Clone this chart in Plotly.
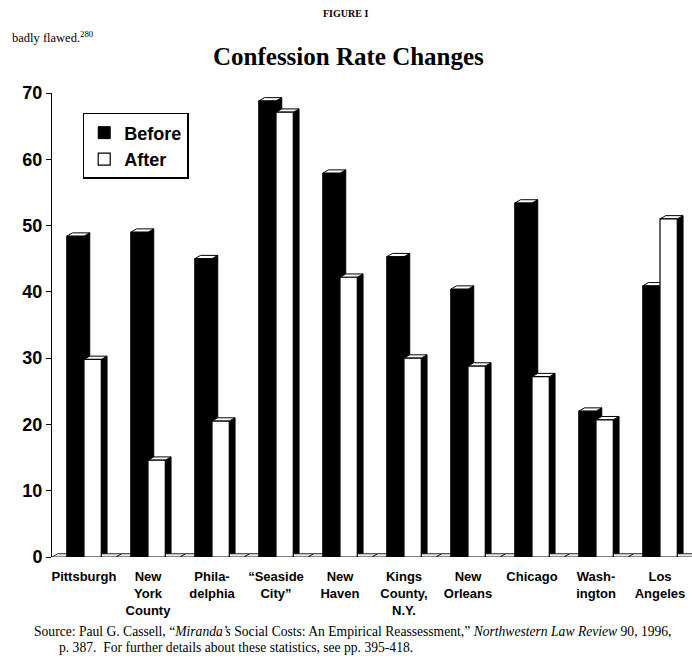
import plotly.graph_objects as go

categories = ["Pittsburgh", "New<br>York<br>County", "Phila-<br>delphia", "\u201cSeaside<br>City\u201d",
              "New<br>Haven", "Kings<br>County,<br>N.Y.", "New<br>Orleans", "Chicago",
              "Wash-<br>ington", "Los<br>Angeles"]
before = [48.4, 49.0, 45.0, 68.8, 57.9, 45.3, 40.4, 53.4, 22.0, 40.9]
after = [29.8, 14.6, 20.5, 67.1, 42.2, 30.0, 28.8, 27.2, 20.7, 51.0]
y_ticks = [0, 10, 20, 30, 40, 50, 60, 70]

xs = list(range(len(categories)))
W = 0.27      # front face width (x units)
OFF_B = -0.27
OFF_A = 0.0
DX = 0.09     # depth in x units
DY = 0.5      # depth in y units

fig = go.Figure()
fig.add_trace(go.Bar(x=xs, y=before, name="<b>Before</b>", width=W, offset=OFF_B,
                     marker=dict(color="black", line=dict(color="black", width=1))))
fig.add_trace(go.Bar(x=xs, y=after, name="<b>After</b>", width=W, offset=OFF_A,
                     marker=dict(color="white", line=dict(color="black", width=1.2))))

shapes = []
for i, (b, a) in enumerate(zip(before, after)):
    for off, h in ((OFF_B, b), (OFF_A, a)):
        L = i + off
        R = L + W
        shapes.append(dict(type="path", xref="x", yref="y", layer="below",
                           path=f"M {R},0 L {R+DX},{DY} L {R+DX},{h+DY} L {R},{h} Z",
                           fillcolor="black", line=dict(color="black", width=1)))
        shapes.append(dict(type="path", xref="x", yref="y", layer="below",
                           path=f"M {L},{h} L {L+DX},{h+DY} L {R+DX},{h+DY} L {R},{h} Z",
                           fillcolor="white", line=dict(color="black", width=1)))
    shapes.append(dict(type="path", xref="x", yref="y", layer="below",
                       path=f"M {i-0.5},0 L {i-0.5+DX},{DY} L {i+0.5+DX},{DY} L {i+0.5},0 Z",
                       fillcolor="#e6e6e6", line=dict(color="black", width=0.8)))

fig.update_layout(
    width=692, height=664,
    margin=dict(l=52, r=0, t=93, b=107),
    paper_bgcolor="white", plot_bgcolor="white",
    barmode="overlay",
    shapes=shapes,
    showlegend=True,
    legend=dict(x=0.048, y=0.957, xanchor="left", yanchor="top",
                bgcolor="white", bordercolor="black", borderwidth=1.5,
                font=dict(family="Liberation Sans", size=18, color="black"),
                itemwidth=30, tracegroupgap=0),
    font=dict(family="Liberation Sans", color="black"),
)

fig.update_xaxes(range=[-0.5, 9.5], tickmode="array", tickvals=xs,
                 ticktext=[f"<b>{c}</b>" for c in categories],
                 tickfont=dict(family="Liberation Sans", size=13, color="black"),
                 showgrid=False, zeroline=False, showline=False, ticks="", ticklabelstandoff=10)
fig.update_yaxes(range=[0, 70], tickmode="array", tickvals=y_ticks,
                 ticktext=[f"<b>{t}</b>" for t in y_ticks],
                 tickfont=dict(family="Liberation Sans", size=18, color="black"),
                 showgrid=False, zeroline=False, showline=True, linecolor="black", linewidth=1,
                 ticks="outside", ticklen=5, tickcolor="black")

PW, PH = 692 - 52, 664 - 93 - 107
def px(x): return (x - 52) / PW
def py(y): return (664 - 107 - y) / PH

texts = [
    dict(text="<b>FIGURE I</b>", x=px(345), y=py(13), xanchor="center", yanchor="middle",
         font=dict(family="Liberation Serif", size=10, color="black")),
    dict(text="badly flawed.<sup>280</sup>", x=px(10), y=py(37), xanchor="left", yanchor="middle",
         font=dict(family="Liberation Serif", size=12.5, color="black")),
    dict(text="<b>Confession Rate Changes</b>", x=px(348), y=py(56), xanchor="center", yanchor="middle",
         font=dict(family="Liberation Serif", size=25, color="black")),
    dict(text="Source: Paul G. Cassell, \u201c<i>Miranda\u2019s</i> Social Costs: An Empirical Reassessment,\u201d "
              "<i>Northwestern Law Review</i> 90, 1996,",
         x=px(32), y=py(631), xanchor="left", yanchor="middle",
         font=dict(family="Liberation Serif", size=13.6, color="black")),
    dict(text="p. 387.  For further details about these statistics, see pp. 395-418.",
         x=px(57), y=py(647), xanchor="left", yanchor="middle",
         font=dict(family="Liberation Serif", size=13.6, color="black")),
]
for t in texts:
    fig.add_annotation(xref="paper", yref="paper", showarrow=False, **t)

fig.write_html("out.html")
